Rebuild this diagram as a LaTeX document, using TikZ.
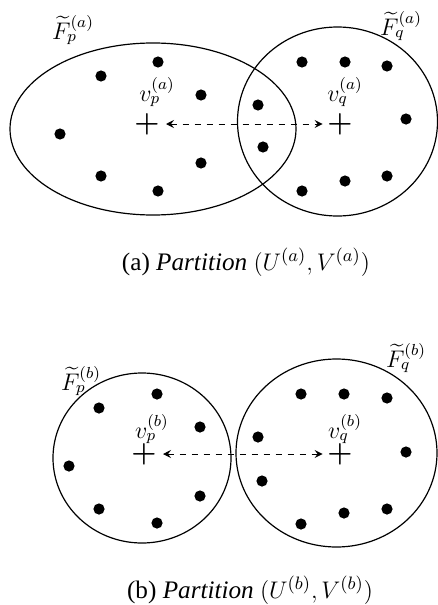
\documentclass[tikz,border=0pt]{standalone}
\usepackage{amsmath, amssymb}
\usepackage{fontspec}
\setmainfont{Liberation Serif}
\usepackage{tikz}
\usetikzlibrary{positioning, arrows.meta}

\begin{document}
\begin{tikzpicture}[
    x=0.5pt, y=-0.5pt,
    region/.style={draw, line width=0.6pt},
    dot/.style={circle, fill=black, inner sep=0pt, minimum size=5.6pt},
    centre/.style={inner sep=0pt, font=\Large},
    lbl/.style={inner sep=1pt, font=\large},
    darrow/.style={{Stealth[length=4pt,width=4pt,inset=1.5pt]}-{Stealth[length=4pt,width=4pt,inset=1.5pt]},
        dashed, line width=0.5pt, shorten <=3pt, shorten >=2.2pt},
    caption/.style={font=\fontsize{12.6}{15}\selectfont}
]
\useasboundingbox (0,0) rectangle (438,605);

% --- (a) overlapping regions ---
\draw[region] (153,129) ellipse [x radius=143, y radius=86];
\draw[region] (337.5,121.5) ellipse [x radius=100, y radius=94.5];

\foreach \px/\py in {158/62, 101/76, 201/95, 60/134, 101/176, 158/191, 201/163,
    258/105, 263/147, 302/62, 345/62, 387/66, 406/119, 387/176, 345/181, 302/191}
    \node[dot] at (\px,\py) {};

\node[centre] (cpa) at (147,124) {$\boldsymbol{+}$};
\node[centre] (cqa) at (340,124) {$\boldsymbol{+}$};
\draw[darrow] (cpa) -- (cqa);

\node[lbl] (vpa) at (157,92) {$v_p^{(a)}$};
\node[lbl] (vqa) at (345,92) {$v_q^{(a)}$};
\node[lbl] (Fpa) at (73,30) {$\widetilde{F}_p^{(a)}$};
\node[lbl] (Fqa) at (401,26) {$\widetilde{F}_q^{(a)}$};

\node[caption] (capa) at (246,262) {(a) \textit{Partition} $(U^{(a)},V^{(a)})$};

% --- (b) separated regions ---
\draw[region] (142,458) ellipse [x radius=89, y radius=85];
\draw[region] (336.5,453) ellipse [x radius=100.5, y radius=94];

\foreach \px/\py in {157/394, 99/408, 200/427, 69/466, 99/509, 157/523, 200/496,
    258/437, 262/481, 301/394, 344/394, 387/398, 406/452, 387/509, 344/513, 301/524}
    \node[dot] at (\px,\py) {};

\node[centre] (cpb) at (144,454) {$\boldsymbol{+}$};
\node[centre] (cqb) at (340,454) {$\boldsymbol{+}$};
\draw[darrow] (cpb) -- (cqb);

\node[lbl] (vpb) at (152,429) {$v_p^{(b)}$};
\node[lbl] (vqb) at (345,429) {$v_q^{(b)}$};
\node[lbl] (Fpb) at (81,381) {$\widetilde{F}_p^{(b)}$};
\node[lbl] (Fqb) at (406,358) {$\widetilde{F}_q^{(b)}$};

\node[caption] (capb) at (250,590) {(b) \textit{Partition} $(U^{(b)},V^{(b)})$};

\end{tikzpicture}
\end{document}
